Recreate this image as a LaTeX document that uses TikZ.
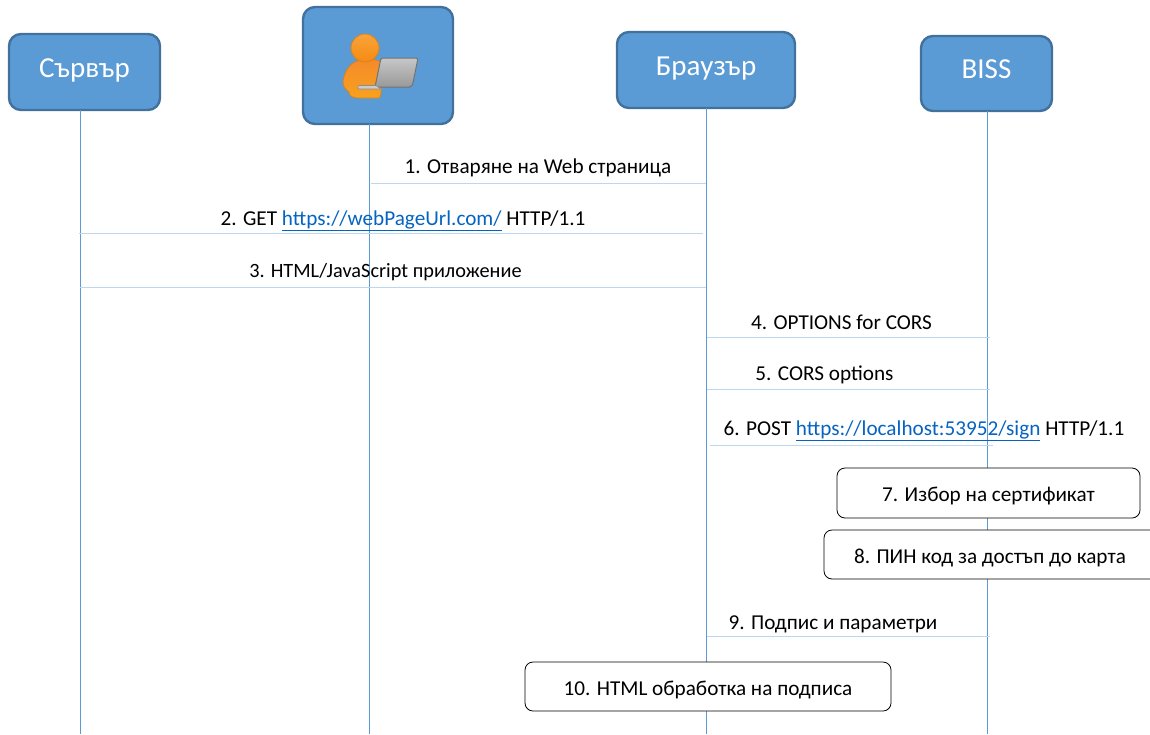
\documentclass[tikz,border=0pt]{standalone}
\usepackage{fontspec}
\setmainfont{Carlito}
\definecolor{boxfill}{HTML}{5B9BD5}
\definecolor{boxedge}{HTML}{41719C}
\definecolor{lifeln}{HTML}{5B9BD5}
\definecolor{msgln}{HTML}{BDD7EE}
\definecolor{linkc}{HTML}{0563C1}
\definecolor{bodytop}{HTML}{F58A2A}
\definecolor{bodybot}{HTML}{F7A11E}
\definecolor{bodyedge}{HTML}{D9821E}
\definecolor{headtop}{HTML}{F9A43A}
\definecolor{headbot}{HTML}{F58A12}
\newcommand{\lnk}[1]{\textcolor{linkc}{\underline{#1}}}
\newcommand{\lowertext}[2]{\raisebox{-#1pt}[0pt][0pt]{#2}}
\tikzset{
 actor/.style={draw=boxedge,line width=2.4pt,fill=boxfill,rounded corners=12pt,inner sep=0pt,text=white,font=\fontsize{29}{34}\selectfont},
 lifeline/.style={draw=lifeln,line width=0.8pt},
 msg/.style={draw=msgln,line width=1pt},
 msgtext/.style={text=black,inner sep=0pt,font=\fontsize{21.2}{25}\selectfont,anchor=base},
 notebox/.style={draw=black,line width=0.8pt,fill=white,rounded corners=8pt,inner sep=0pt,text=black,font=\fontsize{21.2}{25}\selectfont}
}
\begin{document}
\begin{tikzpicture}[x=1pt,y=-1pt]
\useasboundingbox (0,0) rectangle (1150,734);
% actors
\node[actor,minimum width=151pt,minimum height=76pt] (srv) at (84.5,72) {\lowertext{5}{Сървър}};
\node[actor,minimum width=150pt,minimum height=117pt] (usr) at (378,65.5) {};
\node[actor,minimum width=178pt,minimum height=76pt] (brw) at (706,70) {\lowertext{5}{Браузър}};
\node[actor,minimum width=131pt,minimum height=75pt] (bis) at (986.5,73.5) {\lowertext{4.5}{BISS}};
% lifeline ends
\coordinate (srvE) at (80,734);
\coordinate (usrE) at (369,734);
\coordinate (brwE) at (706,734);
\coordinate (bisE) at (987,734);
\coordinate (srvT) at (80,110);
\coordinate (usrT) at (369,124);
\coordinate (brwT) at (706,108);
\coordinate (bisT) at (987,111);
\draw[lifeline] (srvT) -- (srvE);
\draw[lifeline] (usrT) -- (usrE);
\draw[lifeline] (brwT) -- (brwE);
\draw[lifeline] (bisT) -- (bisE);
% user icon
\path[draw=bodyedge,line width=0.8pt,top color=bodytop,bottom color=bodybot]
  (362,60) .. controls (350,61) and (344,72) .. (343,82) .. controls (343,88) and (347,90) .. (349,92)
  .. controls (349,96) and (352,98) .. (360,98) -- (378,98) .. controls (381,98) and (381,94) .. (381,90) -- (382,62) .. controls (375,59) and (368,59) .. (362,60) -- cycle;
\path[draw=bodyedge,line width=0.8pt,top color=headtop,bottom color=headbot]
  (365,48) circle[radius=14pt];
\path[draw=black!55,line width=1pt,top color=black!22,bottom color=black!40,rounded corners=1.5pt]
  (381,58) -- (418,58) -- (413,83) .. controls (412,86) and (410,87) .. (408,87) -- (375,87) -- cycle;
\path[draw=black!45,line width=0.6pt,fill=black!20,rounded corners=1pt]
  (358,85.5) -- (376,85.5) -- (381,89) -- (358,89) -- cycle;
% messages
\coordinate (m1a) at (371,183); \coordinate (m1b) at (706,183);
\coordinate (m2a) at (79,233);  \coordinate (m2b) at (703,233);
\coordinate (m3a) at (80,287);  \coordinate (m3b) at (706,287);
\coordinate (m4a) at (707,337); \coordinate (m4b) at (990,337);
\coordinate (m5a) at (707,389); \coordinate (m5b) at (990,389);
\coordinate (m6a) at (710,445); \coordinate (m6b) at (993,445);
\coordinate (m9a) at (707,636); \coordinate (m9b) at (990,636);
\draw[msg] (m1a) -- (m1b);
\draw[msg] (m2a) -- (m2b);
\draw[msg] (m3a) -- (m3b);
\draw[msg] (m4a) -- (m4b);
\draw[msg] (m5a) -- (m5b);
\draw[msg] (m6a) -- (m6b);
\draw[msg] (m9a) -- (m9b);
\node[msgtext] (t1) at (538,173) {1. Отваряне на Web страница};
\node[msgtext] (t2) at (403,225) {2. GET \lnk{https://webPageUrl.com/} HTTP/1.1};
\node[msgtext,font=\fontsize{20.3}{25}\selectfont] (t3) at (385.5,277) {3. HTML/JavaScript приложение};
\node[msgtext] (t4) at (841.5,329) {4. OPTIONS for CORS};
\node[msgtext] (t5) at (824.5,380) {5. CORS options};
\node[msgtext] (t6) at (924,435) {6. POST \lnk{https://localhost:53952/sign} HTTP/1.1};
\node[msgtext] (t9) at (833,629) {9. Подпис и параметри};
% note boxes
\node[notebox,minimum width=303pt,minimum height=50pt] (n7) at (988.5,493) {\lowertext{8}{7. Избор на сертификат}};
\node[notebox,minimum width=340pt,minimum height=49pt] (n8) at (994,554.5) {\hspace{-8pt}\lowertext{8.5}{8. ПИН код за достъп до карта}};
\node[notebox,minimum width=366pt,minimum height=49pt] (n10) at (708,686.5) {\lowertext{8.5}{10. HTML обработка на подписа}};
\end{tikzpicture}
\end{document}
